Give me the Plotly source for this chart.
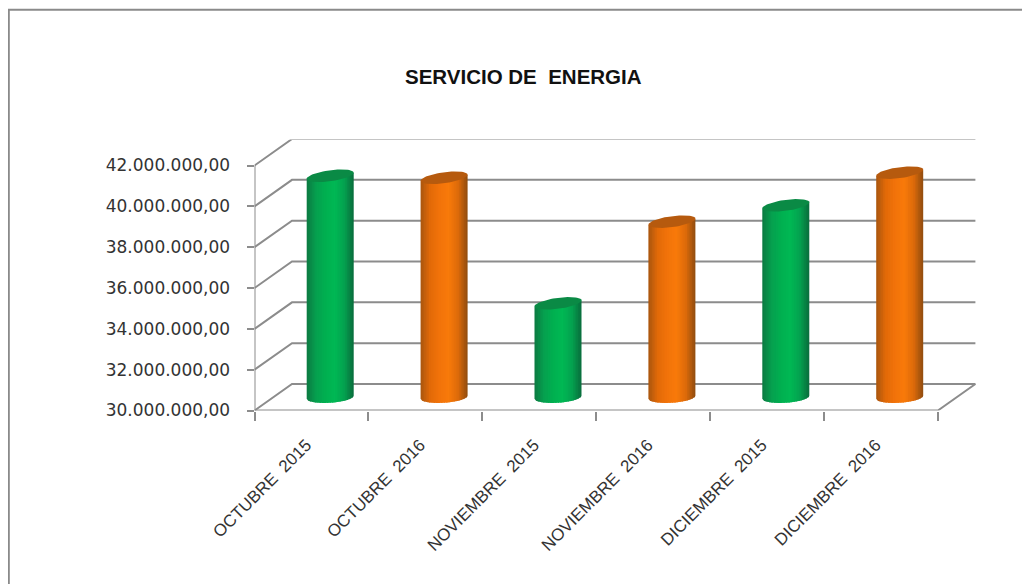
import plotly.graph_objects as go
import math

categories = ["OCTUBRE  2015", "OCTUBRE  2016", "NOVIEMBRE  2015", "NOVIEMBRE  2016", "DICIEMBRE  2015", "DICIEMBRE  2016"]
values = [40850000, 40750000, 34600000, 38600000, 39400000, 41000000]
ramp_green = ["#0b7a42", "#06a04f", "#00b050", "#00b854", "#04a14f", "#0a6c3c"]
ramp_orange = ["#a9560f", "#e26a08", "#f2730a", "#f87a0a", "#dc6a0a", "#8f4c10"]
cap_colors = {"g": "#0a8a45", "o": "#b65a0e"}
y_ticks = [30000000, 32000000, 34000000, 36000000, 38000000, 40000000, 42000000]
y_labels = ["30.000.000,00", "32.000.000,00", "34.000.000,00", "36.000.000,00", "38.000.000,00", "40.000.000,00", "42.000.000,00"]

OFF = 8  # default page margin of the written html
W, H = 1030 - OFF, 584 - OFF
X0, X1, Y0, Y1 = 254.5 - OFF, 976.5 - OFF, 139.5 - OFF, 410.5 - OFF
PX_CAT = 113.9
PX_VAL = 245 / 12e6
DX = 37.5 / PX_CAT
DY = 26.5 / PX_VAL
XMAX = (X1 - X0) / PX_CAT
YMIN = 30e6
YMAX = YMIN + (Y1 - Y0) / PX_VAL
GRID = "#8c8c8c"

fig = go.Figure()

def line(xs, ys, color=GRID, w=2):
    fig.add_trace(go.Scatter(x=xs, y=ys, mode="lines", line=dict(color=color, width=w), hoverinfo="skip", showlegend=False))

for v in y_ticks:
    line([0, DX, 6 + DX], [v, v + DY, v + DY])
line([0, 0], [YMIN, y_ticks[-1]])
line([0, 6, 6 + DX], [YMIN, YMIN, YMIN + DY])

def lerp_hex(stops, f):
    p = f * (len(stops) - 1)
    i = min(int(p), len(stops) - 2)
    t = p - i
    a = [int(stops[i][k:k + 2], 16) for k in (1, 3, 5)]
    b = [int(stops[i + 1][k:k + 2], 16) for k in (1, 3, 5)]
    return "rgb(%d,%d,%d)" % tuple(round(a[j] + (b[j] - a[j]) * t) for j in range(3))

A = 23.5 / PX_CAT
B = 5.5 / PX_VAL
S = 3.0 / PX_VAL
N = 28
for i, v in enumerate(values):
    cx = i + 0.5 + DX / 2
    base = YMIN + DY / 2
    top = v + DY / 2  # bars stand half way into the depth of the box
    stops = ramp_green if i % 2 == 0 else ramp_orange
    cap = cap_colors["g"] if i % 2 == 0 else cap_colors["o"]
    for k in range(N):
        u0 = -1 + 2 * k / N
        u1 = min(1, -1 + 2 * (k + 1.6) / N)
        us = [u0 + (u1 - u0) * j / 4 for j in range(5)]
        xs = [cx + A * u for u in us]
        low = [base - B * math.sqrt(max(0, 1 - u * u)) + S * u * 0.5 for u in us]
        high = [top + S * u for u in us]
        fig.add_trace(go.Scatter(x=xs + xs[::-1], y=low + high[::-1], mode="lines", fill="toself",
                                 fillcolor=lerp_hex(stops, (k + 0.5) / N), line=dict(width=0),
                                 hoverinfo="skip", showlegend=False))
    ts = [2 * math.pi * j / 60 for j in range(61)]
    fig.add_trace(go.Scatter(x=[cx + A * math.cos(t) for t in ts],
                             y=[top + S * math.cos(t) + B * math.sin(t) for t in ts],
                             mode="lines", fill="toself", fillcolor=cap, line=dict(width=0),
                             hoverinfo="skip", showlegend=False))

fig.update_layout(
    width=W, height=H, margin=dict(l=0, r=0, t=0, b=0, pad=0, autoexpand=False),
    paper_bgcolor="white", plot_bgcolor="white", showlegend=False,
    annotations=[dict(text="SERVICIO DE  ENERGIA", xref="paper", yref="paper", x=(523 - OFF) / W, y=1 - (77 - OFF) / H,
                      xanchor="center", yanchor="middle", showarrow=False,
                      font=dict(family="Liberation Sans", size=20.5, color="#111111", weight="bold"))],
    shapes=[dict(type="line", xref="paper", yref="paper", x0=0.8 / W, x1=0.8 / W, y0=0, y1=1 - 1.8 / H,
                 line=dict(color="#8a8a8a", width=2)),
            dict(type="line", xref="paper", yref="paper", x0=0, x1=1, y0=1 - 1.8 / H, y1=1 - 1.8 / H,
                 line=dict(color="#8a8a8a", width=2))],
    xaxis=dict(domain=[X0 / W, X1 / W], range=[0, XMAX], showgrid=False, zeroline=False, showline=False,
               automargin=False,
               tickmode="array", tickvals=[i + 0.5 - 0.045 for i in range(6)], ticktext=categories,
               tickangle=-45, ticks="outside", ticklen=17, tickcolor="rgba(0,0,0,0)",
               tickfont=dict(family="Liberation Sans", size=17, color="#333333"),
               minor=dict(tickmode="array", tickvals=list(range(7)), ticks="outside", ticklen=9,
                          tickcolor=GRID, tickwidth=1.5)),
    yaxis=dict(domain=[1 - Y1 / H, 1 - Y0 / H], range=[YMIN, YMAX], showgrid=False, zeroline=False, showline=False,
               automargin=False,
               tickmode="array", tickvals=y_ticks, ticktext=y_labels, ticks="outside", ticklen=20,
               tickcolor="rgba(0,0,0,0)",
               tickfont=dict(family="DejaVu Sans", size=17, color="#333333"),
               minor=dict(tickmode="array", tickvals=y_ticks, ticks="outside", ticklen=7,
                          tickcolor=GRID, tickwidth=1.5)),
)
fig.write_html("out.html", post_script="document.documentElement.style.overflow='hidden';document.body.style.overflow='hidden';")
